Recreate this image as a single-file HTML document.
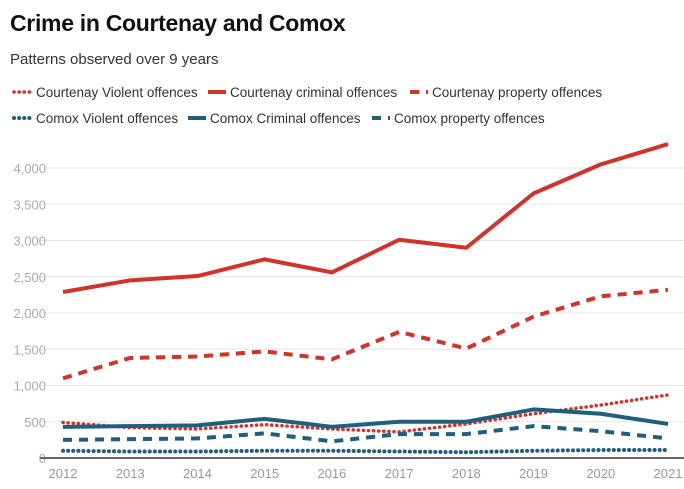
<!DOCTYPE html>
<html><head><meta charset="utf-8"><style>
body{margin:0;background:#fff;font-family:"Liberation Sans",sans-serif;}
#wrap{position:relative;width:684px;height:489px;overflow:hidden;}
h1{position:absolute;left:10px;top:10px;margin:0;font-size:23px;font-weight:bold;color:#111;letter-spacing:-0.3px;}
.sub{position:absolute;left:10px;top:51px;font-size:15px;color:#333;}
</style></head><body>
<div id="wrap">
<h1>Crime in Courtenay and Comox</h1>
<div class="sub">Patterns observed over 9 years</div>
<svg id="chart" width="684" height="489" style="position:absolute;left:0;top:0"></svg>
</div>
<script>
const years=["2012","2013","2014","2015","2016","2017","2018","2019","2020","2021"];
const yTicks=[0,500,1000,1500,2000,2500,3000,3500,4000];
const courtenayViolent=[490,420,400,460,400,360,470,610,730,870];
const courtenayCriminal=[2290,2450,2510,2740,2560,3010,2900,3650,4050,4330];
const courtenayProperty=[1100,1380,1400,1470,1360,1740,1510,1950,2230,2320];
const comoxViolent=[100,90,90,100,100,90,80,100,110,110];
const comoxCriminal=[430,440,450,540,430,500,500,670,610,470];
const comoxProperty=[250,260,270,340,230,330,330,440,370,270];
const RED="#d03329",BLUE="#1f5f7e";
const series=[
 {name:"Courtenay Violent offences",data:courtenayViolent,color:RED,w:3.5,dash:"0.1 5",cap:"round",lx:14,ly:92,key:"courtenay-violent"},
 {name:"Courtenay criminal offences",data:courtenayCriminal,color:RED,w:4,dash:"",cap:"butt",lx:208,ly:92,key:"courtenay-criminal"},
 {name:"Courtenay property offences",data:courtenayProperty,color:RED,w:4,dash:"9 7",cap:"butt",lx:410,ly:92,key:"courtenay-property"},
 {name:"Comox Violent offences",data:comoxViolent,color:BLUE,w:4,dash:"0.1 5",cap:"round",lx:14,ly:118,key:"comox-violent"},
 {name:"Comox Criminal offences",data:comoxCriminal,color:BLUE,w:4,dash:"",cap:"butt",lx:188,ly:118,key:"comox-criminal"},
 {name:"Comox property offences",data:comoxProperty,color:BLUE,w:4,dash:"9 7",cap:"butt",lx:372,ly:118,key:"comox-property"}
];
const svg=document.getElementById('chart');const NS="http://www.w3.org/2000/svg";
const x=i=>63+i*(668-63)/(years.length-1);
const y=v=>458-v*0.0725;
function mk(t,a){const e=document.createElementNS(NS,t);for(const k in a)e.setAttribute(k,a[k]);svg.appendChild(e);return e;}
yTicks.forEach(t=>{
 if(t>0){const g=mk('line',{x1:40,x2:684,y1:y(t),y2:y(t),stroke:'#e6e6e6','stroke-width':1});
 
 }
 const l=mk('text',{x:46,y:y(t)+5,'text-anchor':'end','font-size':13,fill:'#aaa','font-family':'Liberation Sans'});
 l.textContent=t.toLocaleString('en-US');
 
 
});
years.forEach((yr,i)=>{
 const l=mk('text',{x:x(i),y:478,'text-anchor':'middle','font-size':13,fill:'#999','font-family':'Liberation Sans'});
 l.textContent=yr;
 
 
});
const ax=mk('line',{x1:40,x2:684,y1:458,y2:458,stroke:'#666','stroke-width':2});


series.forEach(s=>{
 const p=mk('polyline',{points:s.data.map((v,i)=>x(i)+','+y(v)).join(' '),fill:'none',stroke:s.color,'stroke-width':s.w,'stroke-dasharray':s.dash,'stroke-linecap':s.cap,'stroke-linejoin':'round'});
 
 
 const m=mk('line',{x1:s.lx,x2:s.lx+18,y1:s.ly,y2:s.ly,stroke:s.color,'stroke-width':s.w,'stroke-dasharray':s.dash,'stroke-linecap':s.cap});
 
 
 const t=mk('text',{x:s.lx+22,y:s.ly+5,'font-size':13.5,fill:'#333','font-family':'Liberation Sans'});
 t.textContent=s.name;
 
 
});
</script>
</body></html>
